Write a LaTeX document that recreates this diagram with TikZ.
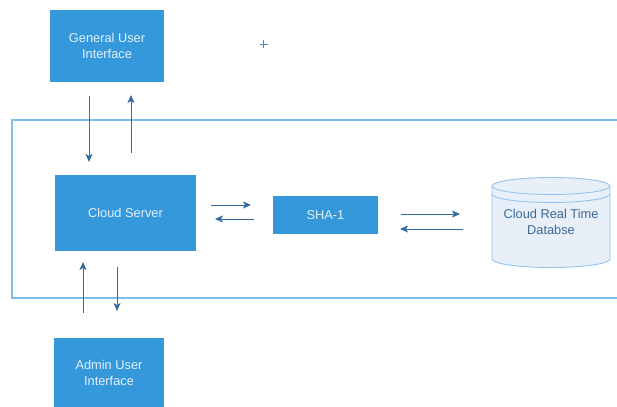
\documentclass[tikz,border=0pt]{standalone}
\usepackage{fontspec}
\setmainfont{Liberation Sans}
\usetikzlibrary{arrows.meta}
\definecolor{boxblue}{RGB}{52,152,219}
\definecolor{boxtext}{RGB}{228,240,251}
\definecolor{arrowblue}{RGB}{50,108,160}
\definecolor{framblue}{RGB}{125,190,232}
\definecolor{dbfill}{RGB}{233,239,249}
\definecolor{dbline}{RGB}{150,195,235}
\definecolor{dbtext}{RGB}{60,105,150}
\definecolor{plusblue}{RGB}{70,130,200}
\begin{document}
\begin{tikzpicture}[x=1pt,y=-1pt,
  bluebox/.style={fill=boxblue,draw=none,text=boxtext,align=center,inner sep=0pt,
    font=\fontsize{12.8}{16}\selectfont},
  flow/.style={draw=arrowblue,line width=1pt,-{Stealth[length=8pt,width=7pt,inset=2pt]}},
  frameline/.style={draw=framblue,line width=1.3pt},
  dbstroke/.style={draw=dbline,line width=0.9pt}]
\useasboundingbox (0,0) rectangle (617,406);
% outer frame
\coordinate (f1) at (617,120);
\coordinate (f2) at (12,120);
\coordinate (f3) at (12,298);
\coordinate (f4) at (617,298);
\draw[frameline] (f1) -- (f2) -- (f3) -- (f4);
% boxes
\node[bluebox,minimum width=114pt,minimum height=72pt] (gui) at (107,46) {General User\\Interface};
\node[bluebox,minimum width=141pt,minimum height=76pt] (cs) at (125.5,213) {Cloud Server};
\node[bluebox,minimum width=105pt,minimum height=38pt] (sha) at (325.5,215) {SHA-1};
\node[bluebox,minimum width=110pt,minimum height=70pt] (aui) at (109,373) {Admin User\\Interface};
% database cylinder
\filldraw[fill=dbfill,dbstroke]
  (492,186) -- (492,259) arc[start angle=180,end angle=0,x radius=59,y radius=8.5]
  -- (610,186) arc[start angle=0,end angle=-180,x radius=59,y radius=8.5] -- cycle;
\draw[dbstroke] (492,186) arc[start angle=180,end angle=0,x radius=59,y radius=8.5];
\draw[dbstroke] (492,194) arc[start angle=180,end angle=0,x radius=59,y radius=8.5];
\node[text=dbtext,align=center,font=\fontsize{12.8}{16}\selectfont] (db) at (551,222) {Cloud Real Time\\Databse};
% plus marker
\coordinate (plus) at (263.5,44);
\draw[draw=plusblue,line width=0.7pt] ([xshift=-4pt]plus) -- ([xshift=4pt]plus);
\draw[draw=plusblue,line width=0.7pt] ([yshift=-4pt]plus) -- ([yshift=4pt]plus);
% arrow coordinates
\coordinate (g1s) at (89,96);  \coordinate (g1e) at (89,162);
\coordinate (g2s) at (131,153); \coordinate (g2e) at (131,95);
\coordinate (s1s) at (211,205); \coordinate (s1e) at (251,205);
\coordinate (s2s) at (254,219); \coordinate (s2e) at (215,219);
\coordinate (d1s) at (401,214); \coordinate (d1e) at (460,214);
\coordinate (d2s) at (463,229); \coordinate (d2e) at (400,229);
\coordinate (a1s) at (83,313); \coordinate (a1e) at (83,262);
\coordinate (a2s) at (117,267); \coordinate (a2e) at (117,311);
\draw[flow] (g1s) -- (g1e);
\draw[flow] (g2s) -- (g2e);
\draw[flow] (s1s) -- (s1e);
\draw[flow] (s2s) -- (s2e);
\draw[flow] (d1s) -- (d1e);
\draw[flow] (d2s) -- (d2e);
\draw[flow] (a1s) -- (a1e);
\draw[flow] (a2s) -- (a2e);
\end{tikzpicture}
\end{document}
